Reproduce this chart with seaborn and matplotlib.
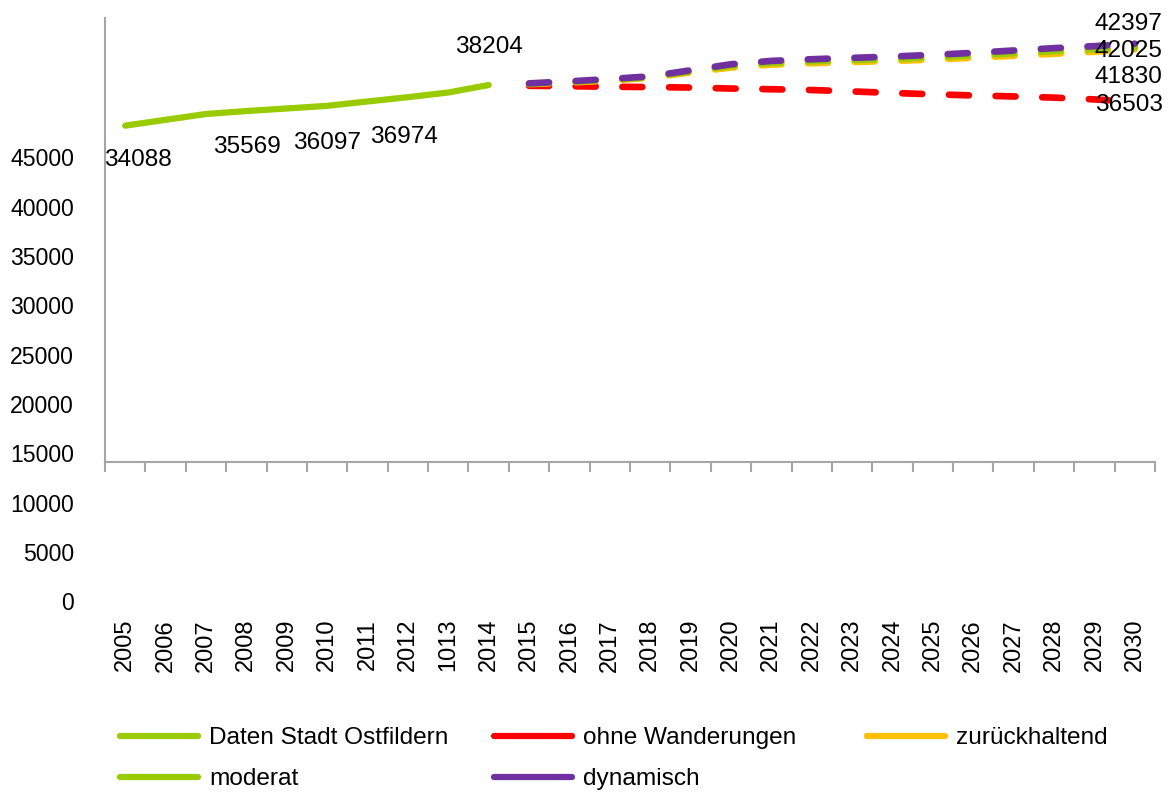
import matplotlib

matplotlib.use('Agg')
import matplotlib.pyplot as plt
from matplotlib.lines import Line2D
import seaborn as sns
import numpy as np

# Kategorien (Achsenbeschriftung wie im Original, inkl. "1013")
years = ['2005', '2006', '2007', '2008', '2009', '2010', '2011', '2012', '1013',
         '2014', '2015', '2016', '2017', '2018', '2019', '2020', '2021', '2022',
         '2023', '2024', '2025', '2026', '2027', '2028', '2029', '2030']

# Daten Stadt Ostfildern 2005-2014
daten = [34088, 34680, 35270, 35569, 35830, 36097, 36540, 36974, 37450, 38204]

# Prognosen 2015-2030
ohne = [38130, 38090, 38030, 38000, 37950, 37850, 37780, 37700, 37560, 37400,
        37270, 37150, 37050, 36930, 36750, 36503]
zurueck = [38300, 38460, 38660, 38950, 39480, 39980, 40280, 40420, 40540, 40650,
           40790, 40970, 41170, 41380, 41580, 41830]
moderat = [38330, 38510, 38730, 39010, 39580, 40150, 40460, 40610, 40740, 40860,
           41010, 41200, 41420, 41640, 41830, 42025]
dynamisch = [38374, 38580, 38816, 39088, 39700, 40312, 40652, 40822, 40958, 41094,
             41264, 41468, 41706, 41944, 42148, 42397]

yticks = list(range(0, 45001, 5000))

# Beschriftete Werte: (Index, Wert, Versatz x/y in Pixel)
point_labels = [
    (0, 34088, 13, -34),
    (3, 35569, 1, -36),
    (5, 36097, 0, -37),
    (7, 36974, -4, -40),
    (9, 38204, 0, 38),
]
end_labels = [
    ('42397', 42397, 20),
    ('42025', 42025, -4),
    ('41830', 41830, -28),
    ('36503', 36503, -3),
]

GREEN = '#99cc00'
RED = '#ff0000'
YELLOW = '#ffc000'
PURPLE = '#7030a0'
AXIS = '#a6a6a6'

sns.set_style('white')
plt.rcParams['font.family'] = ['Liberation Sans', 'DejaVu Sans']
plt.rcParams['text.color'] = 'black'

fig = plt.figure(figsize=(11.67, 7.93), dpi=100)
ax = fig.add_axes([105 / 1167, 1 - 462 / 793, 1050 / 1167, 444 / 793])

x_hist = np.arange(len(daten))
x_proj = np.arange(len(daten), len(years))

sns.lineplot(x=x_hist, y=daten, color=GREEN, lw=4.5, ax=ax, sort=False)
ax.lines[-1].set_solid_capstyle('round')

for vals, col in [(ohne, RED), (zurueck, YELLOW), (moderat, GREEN), (dynamisch, PURPLE)]:
    sns.lineplot(x=x_proj, y=vals, color=col, lw=4.8, ax=ax, sort=False)
    line = ax.lines[-1]
    line.set_dashes((3.0, 4.0))
    line.set_dash_capstyle('round')

ax.set_xlim(-0.5, len(years) - 0.5)
ax.set_ylim(0, 45000)

for s in ['top', 'right']:
    ax.spines[s].set_visible(False)
for s in ['left', 'bottom']:
    ax.spines[s].set_color(AXIS)
    ax.spines[s].set_linewidth(1.5)

# y-Achse: Striche an der Achse, Beschriftung nach unten verschoben (wie im Original)
ax.set_yticks(yticks)
ax.set_yticklabels([])
ax.tick_params(axis='y', direction='out', length=7, width=1.5, color=AXIS)
for v in yticks:
    ax.annotate(str(v), xy=(0, v), xycoords=('axes fraction', 'data'),
                xytext=(-31 * 0.72, -142 * 0.72), textcoords='offset points',
                ha='right', va='center', fontsize=16.6)

# x-Achse
ax.set_xticks(np.arange(len(years)))
ax.set_xticklabels(years, rotation=90, fontsize=17)
ax.tick_params(axis='x', which='major', length=0, pad=113, labelcolor='black')
ax.set_xticks(np.arange(-0.5, len(years), 1), minor=True)
ax.tick_params(axis='x', which='minor', direction='out', length=7.2, width=1.5,
               color=AXIS, bottom=True)

# Datenbeschriftungen
for i, v, dx, dy in point_labels:
    ax.annotate(str(v), xy=(i, v), xytext=(dx * 0.72, dy * 0.72),
                textcoords='offset points', ha='center', va='center', fontsize=17.6)
for txt, v, dy in end_labels:
    ax.annotate(txt, xy=(len(years) - 1, v), xytext=(-6 * 0.72, dy * 0.72),
                textcoords='offset points', ha='center', va='center', fontsize=17.6)

# Legende: drei gleich breite Spalten
columns = [
    (120, [(GREEN, 'Daten Stadt Ostfildern'), (GREEN, 'moderat')]),
    (494, [(RED, 'ohne Wanderungen'), (PURPLE, 'dynamisch')]),
    (867, [(YELLOW, 'zurückhaltend')]),
]
for x0, entries in columns:
    handles = [Line2D([], [], color=c, lw=4.5) for c, _ in entries]
    fig.legend(handles, [t for _, t in entries], loc='upper left',
               bbox_to_anchor=(x0 / 1167, 1 - 727 / 793), frameon=False,
               fontsize=17.6, handlelength=3.2, handletextpad=0.45,
               labelspacing=0.78, borderpad=0, borderaxespad=0)

plt.savefig('out.png', dpi=100)
plt.close()
